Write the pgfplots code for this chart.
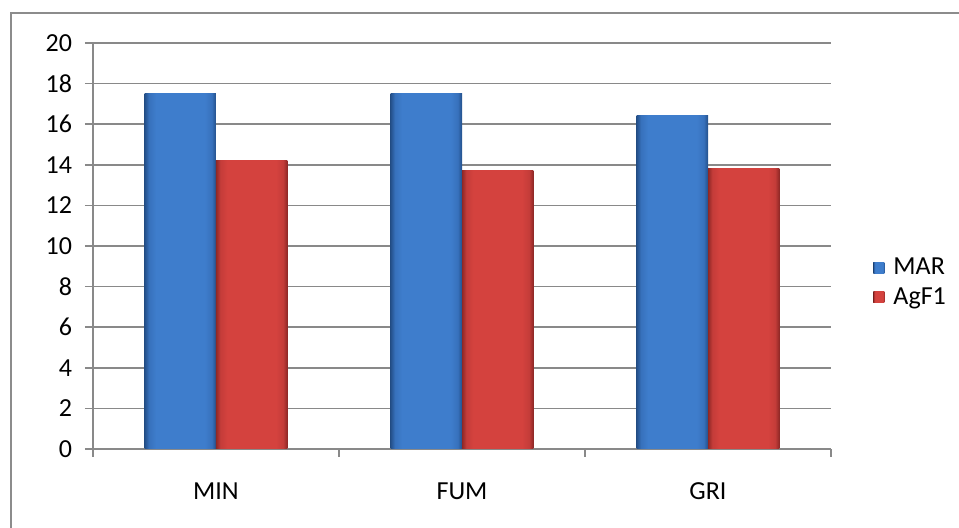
\documentclass[border=0pt]{standalone}
\usepackage{pgfplots}
\pgfplotsset{compat=1.18}
\usepackage{fontspec}
\setmainfont{Carlito}

\definecolor{gridgray}{HTML}{898989}
\definecolor{framegray}{HTML}{8C8C8C}
\definecolor{marmid}{HTML}{3E7DCC}
\definecolor{marside}{HTML}{3771BC}
\definecolor{maredge}{HTML}{24508A}
\definecolor{agmid}{HTML}{D4423E}
\definecolor{agside}{HTML}{C43C39}
\definecolor{agedge}{HTML}{8E2826}

% bar faces: flat centre, darker bevelled sides
\pgfdeclarehorizontalshading{marface}{100bp}{color(0bp)=(maredge); color(25bp)=(maredge);
  color(28bp)=(marside); color(33bp)=(marmid); color(67bp)=(marmid);
  color(72bp)=(marside); color(75bp)=(maredge); color(100bp)=(maredge)}
\pgfdeclarehorizontalshading{agface}{100bp}{color(0bp)=(agedge); color(25bp)=(agedge);
  color(28bp)=(agside); color(33bp)=(agmid); color(67bp)=(agmid);
  color(72bp)=(agside); color(75bp)=(agedge); color(100bp)=(agedge)}

\pgfplotsset{
  marbar/.style={draw=none, fill=marmid, shading=marface, bar shift=-0.145},
  agbar/.style={draw=none, fill=agmid, shading=agface, bar shift=0.145},
}

\begin{document}
\begin{tikzpicture}
  \path[use as bounding box] (-46.5pt,-39.5pt) rectangle (433pt,224.5pt);
  % chart area frame (left and top edges)
  \draw[framegray, line width=1pt] (-41pt,-39.5pt) -- (-41pt,218pt) -- (433pt,218pt);
  \begin{axis}[
    scale only axis,
    width=369pt, height=203pt,
    ybar=0pt, bar width=0.29,
    xmin=-0.5, xmax=2.5,
    ymin=0, ymax=20,
    ytick={0,2,...,20},
    xtick={0,1,2},
    xticklabels={MIN,FUM,GRI},
    minor xtick={-0.5,0.5,1.5,2.5},
    major x tick style={draw=none},
    minor x tick style={gridgray, line width=0.75pt},
    tick align=outside,
    major tick length=4pt,
    minor tick length=4pt,
    y tick style={gridgray, line width=0.75pt},
    ymajorgrids,
    grid style={gridgray, line width=0.75pt},
    axis x line*=bottom,
    axis y line*=left,
    axis line style={gridgray, line width=0.75pt, -},
    tick label style={font=\fontsize{13}{15.6}\selectfont, black},
    /pgf/number format/assume math mode=true,
    xticklabel style={yshift=-9.5pt},
    yticklabel style={xshift=-3pt},
    legend style={at={(1.057,0.41)}, anchor=west, draw=none, fill=none,
      font=\fontsize{13}{15.6}\selectfont, row sep=1pt, inner sep=0pt},
    legend cell align=left,
    legend image code/.code={\fill[#1] (0pt,-2.75pt) rectangle (5.5pt,2.75pt);
      \path (8pt,0pt);},
  ]
    % one plot per bar so each bar carries its own shading
    \addplot[marbar, forget plot] coordinates {(0,17.5)};
    \addplot[marbar, forget plot] coordinates {(1,17.5)};
    \addplot[marbar, forget plot] coordinates {(2,16.45)};
    \addplot[agbar, forget plot] coordinates {(0,14.2)};
    \addplot[agbar, forget plot] coordinates {(1,13.7)};
    \addplot[agbar, forget plot] coordinates {(2,13.8)};
    \addlegendimage{marbar}
    \addlegendentry{MAR}
    \addlegendimage{agbar}
    \addlegendentry{AgF1}
  \end{axis}
\end{tikzpicture}
\end{document}
